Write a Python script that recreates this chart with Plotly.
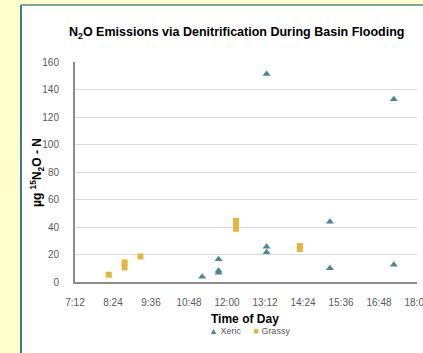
import plotly.graph_objects as go

# ---------------- data ----------------
xeric_times = ["11:13", "11:44", "11:44", "11:44", "13:15", "13:15", "13:15",
               "15:15", "15:15", "17:16", "17:16"]
xeric_values = [3.9, 16.5, 8.2, 6.8, 25.7, 21.6, 151.3, 43.9, 10.0, 12.6, 132.9]

grassy_times = ["8:16", "8:46", "8:46", "9:16", "12:17", "12:17", "12:17",
                "14:18", "14:18"]
grassy_values = [5.3, 14.2, 10.6, 18.6, 44.5, 42.5, 38.7, 26.2, 24.0]

y_ticks = [0, 20, 40, 60, 80, 100, 120, 140, 160]
series_names = ["Xeric", "Grassy"]

DAY = "2000-01-01 "


def to_dt(t):
    h, m = t.split(":")
    return f"{DAY}{int(h):02d}:{m}"


# ---------------- layout helpers (pixel -> paper) ----------------
W, H = 423, 353
L, R, T, B = 75, 6, 62, 71
PW = W - L - R
PH = H - T - B


def px(x):
    return (x - L) / PW


def py(y):
    return (H - B - y) / PH


XERIC_C = "#4A8694"
GRASSY_C = "#E6B63C"
FONT = "Liberation Sans"

fig = go.Figure()
fig.add_trace(go.Scatter(
    x=[to_dt(t) for t in xeric_times], y=xeric_values, mode="markers", name=series_names[0],
    marker=dict(symbol="triangle-up", size=7, color=XERIC_C), showlegend=False,
))
fig.add_trace(go.Scatter(
    x=[to_dt(t) for t in grassy_times], y=grassy_values, mode="markers", name=series_names[1],
    marker=dict(symbol="square", size=6, color=GRASSY_C), showlegend=False,
))

legend_text = (f"<span style='color:{XERIC_C}'>▲</span> {series_names[0]}"
               f"     <span style='color:{GRASSY_C}'>■</span> {series_names[1]}")

fig.update_layout(
    width=W, height=H,
    margin=dict(l=L, r=R, t=T, b=B, autoexpand=False),
    paper_bgcolor="#FFFFCC",
    plot_bgcolor="rgba(0,0,0,0)",
    font=dict(family=FONT, color="#595959", size=10),
    xaxis=dict(
        type="date",
        range=[DAY + "07:12", DAY + "18:00"],
        tick0=DAY + "07:12", dtick=72 * 60 * 1000,
        tickformat="%-H:%M",
        showgrid=False, zeroline=False,
        showline=True, linecolor="#8C8C8C", linewidth=2,
        ticks="", ticklabelstandoff=10, ticklabeloverflow="allow",
        tickfont=dict(size=10, color="#595959"),
    ),
    yaxis=dict(
        range=[0, 160], tickvals=y_ticks,
        showgrid=True, gridcolor="#D9D9D9", gridwidth=1,
        zeroline=False,
        showline=True, linecolor="#8C8C8C", linewidth=2,
        ticks="", ticklabelstandoff=12,
        tickfont=dict(size=10, color="#595959"),
    ),
    shapes=[
        dict(type="rect", xref="paper", yref="paper",
             x0=px(21), x1=px(W), y0=py(5), y1=py(H),
             fillcolor="white", line=dict(width=0), layer="below"),
        dict(type="line", xref="paper", yref="paper",
             x0=px(21), x1=px(W), y0=py(5), y1=py(5),
             line=dict(color="#7FA39A", width=2), layer="below"),
        dict(type="line", xref="paper", yref="paper",
             x0=px(21), x1=px(21), y0=py(5), y1=py(H),
             line=dict(color="#3E7C8C", width=2), layer="below"),
    ],
    annotations=[
        dict(text="<b>N<sub>2</sub>O Emissions via Denitrification During Basin Flooding</b>",
             xref="paper", yref="paper", x=px(236), y=py(33), xanchor="center", yanchor="middle",
             showarrow=False, font=dict(size=12.5, color="#000000", family=FONT)),
        dict(text="<b>Time of Day</b>",
             xref="paper", yref="paper", x=px(245), y=py(319), xanchor="center", yanchor="middle",
             showarrow=False, font=dict(size=12, color="#000000", family=FONT)),
        dict(text="<b>µg <sup>15</sup>N<sub>2</sub>O - N</b>",
             xref="paper", yref="paper", x=px(37), y=py(173), xanchor="center", yanchor="middle",
             textangle=-90, showarrow=False, font=dict(size=12, color="#000000", family=FONT)),
        dict(text=legend_text,
             xref="paper", yref="paper", x=px(249), y=py(331), xanchor="center", yanchor="middle",
             showarrow=False, font=dict(size=9, color="#595959", family=FONT)),
    ],
)

fig.write_html(
    "out.html",
    config={"displayModeBar": False},
    post_script=("document.body.style.margin='0';document.body.style.overflow='hidden';"
                 "document.documentElement.style.overflow='hidden';"),
)
